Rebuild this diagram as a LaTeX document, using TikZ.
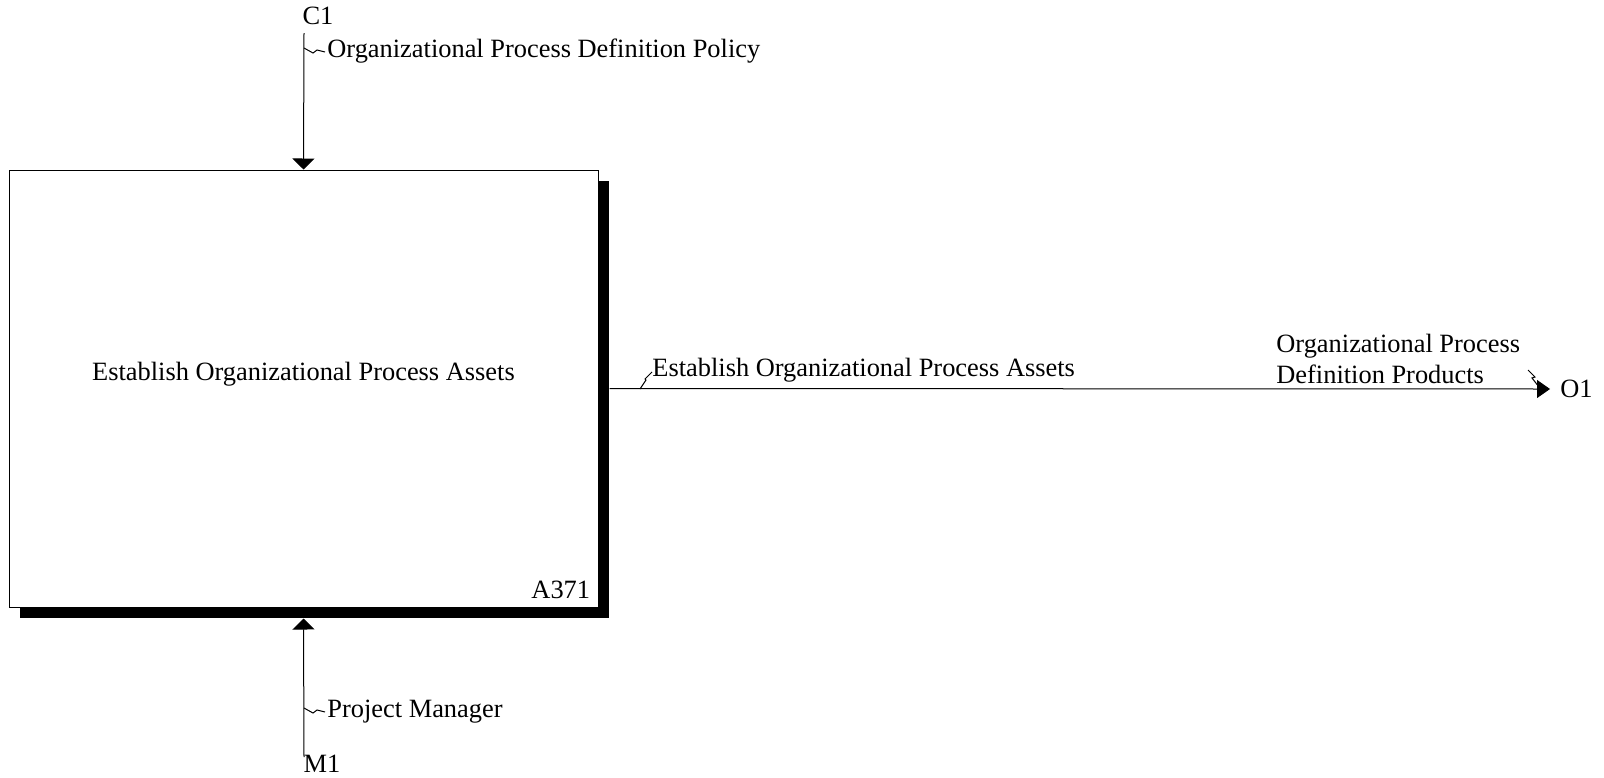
\documentclass[tikz,border=0pt]{standalone}
\usepackage{fontspec}
\setmainfont{Liberation Serif}
\usetikzlibrary{arrows.meta,shadows,positioning}

\begin{document}
\begin{tikzpicture}[x=0.5pt, y=-0.5pt, font=\fontsize{13.2}{15.3}\selectfont,
          >={Triangle[width=11pt,length=5.5pt]},
          arr/.style={line width=0.5pt, ->},
          squig/.style={line width=0.5pt},
          lbl/.style={inner sep=1pt, anchor=west},
          act/.style={draw, line width=0.5pt, fill=white, inner sep=0pt,
            minimum width=294.5pt, minimum height=218.5pt,
            general shadow={fill=black, shadow xshift=5.5pt, shadow yshift=-5.5pt}}]
        \useasboundingbox (0,0) rectangle (1604,777);
        \node[act] (box) at (303.5,388.5) {};
        \node (boxtitle) at ([yshift=7pt]box.center) {Establish Organizational Process Assets};
        \node[anchor=south east, inner sep=4pt] (boxid) at (box.south east) {A371};
        % control C1 from top
        \node (c1) at (318,16) {C1};
        \coordinate (c1end) at (304,33);
        \draw[arr] (c1end) -- (box.north);
        \coordinate (c1sq) at (304,48);
        \draw[squig] (c1sq) -- ++(9,5) -- ++(4,-3) -- ++(8,2);
        \node[lbl] (policy) at (325,51) {Organizational Process Definition Policy};
        % mechanism M1 from bottom
        \node (m1) at (322,764) {M1};
        \coordinate (m1end) at (304,757);
        \draw[arr] (m1end) -- ([yshift=-5.5pt]box.south);
        \coordinate (m1sq) at (304,708);
        \draw[squig] (m1sq) -- ++(9,5) -- ++(4,-3) -- ++(8,2);
        \node[lbl] (manager) at (325,712) {Project Manager};
        % output O1 to the right
        \coordinate (o1end) at (1550,389);
        \node[anchor=west, inner sep=2pt] (o1) at (1556,389) {O1};
        \draw[line width=0.5pt, -{Triangle[width=9pt,length=6.5pt]}] ([xshift=5.5pt]box.east) -- (o1end);
        \coordinate (outsq) at (640,389);
        \draw[squig] (outsq) -- ++(6,-9) -- ++(-1,-1) -- ++(7,-7);
        \node[lbl] (outname) at (650,370) {Establish Organizational Process Assets};
        \coordinate (prodsq) at (1528,370);
        \draw[squig] (prodsq) -- ++(7,7) -- ++(-3,1) -- ++(7,9);
        \node[lbl, align=left] (products) at (1274,359) {Organizational Process\\Definition Products};
\end{tikzpicture}
\end{document}
